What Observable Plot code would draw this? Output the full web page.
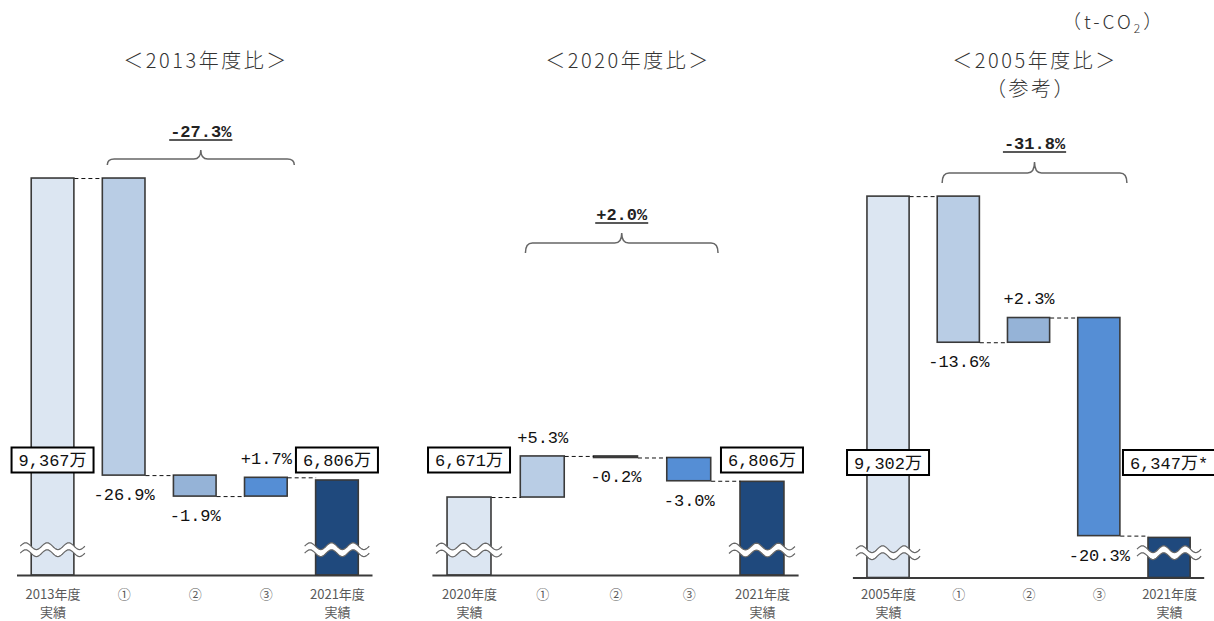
<!DOCTYPE html>
<html><head><meta charset="utf-8">
<script src="https://cdn.jsdelivr.net/npm/d3@7"></script>
<script src="https://cdn.jsdelivr.net/npm/@observablehq/plot@0.6"></script>
<style>
body{margin:0;background:#fff;}
#wrap{position:relative;width:1214px;height:621px;overflow:hidden;font-family:"Noto Sans CJK JP",sans-serif;}
#wrap svg{position:absolute;top:0;}
.title{position:absolute;font-size:20px;letter-spacing:2.5px;color:#333;transform:translateX(-50%);white-space:nowrap;line-height:20px;font-weight:300;}
.unit{position:absolute;font-size:19px;color:#333;white-space:nowrap;line-height:20px;letter-spacing:3px;font-weight:300;}
.unit sub{font-size:12px;vertical-align:-4px;}
</style></head><body><div id="wrap"></div>
<script>
// ---------- data ----------
const titles = ["＜2013年度比＞", "＜2020年度比＞", "＜2005年度比＞"];
const subtitles = ["", "", "（参考）"];
const unitLabel = ["（t-CO", "2", "）"];
const axisLabels = [
  ["2013年度\n実績", "①", "②", "③", "2021年度\n実績"],
  ["2020年度\n実績", "①", "②", "③", "2021年度\n実績"],
  ["2005年度\n実績", "①", "②", "③", "2021年度\n実績"]
];
const baseValues = [9367, 6671, 9302];     // 万 t-CO2
const finalValues = [6806, 6806, 6347];
const baseLabels = ["9,367万", "6,671万", "9,302万"];
const finalLabels = ["6,806万", "6,806万", "6,347万*"];
const changePct = [[-26.9, -1.9, 1.7], [5.3, -0.2, -3.0], [-13.6, 2.3, -20.3]];
const totalLabels = ["-27.3%", "+2.0%", "-31.8%"];
const axisBreakBase = 6000;   // value at the (broken) baseline
const axisTop = 10000;
const breakValue = 6215;      // where the wavy break is drawn

// ---------- style / layout ----------
const barColors = ["#dce6f2", "#b9cde5", "#95b3d7", "#558ed5", "#1f497d"];
const MONO = "'Liberation Mono','Noto Sans CJK JP',monospace";
const BAR_W = 0.6;
const layout = [
  {left: 0,   width: 400, ml: 17,   mr: 27.5, mt: 103.4, mb: 46,   titleX: 206,  bracketAt: 9477, hEnd: 6,  hPeak: 9,  pad: 11},
  {left: 410, width: 410, ml: 22.4, mr: 21.4, mt: 110.2, mb: 46,   titleX: 628,  bracketAt: 8771, hEnd: 10, hPeak: 10, pad: 11},
  {left: 830, width: 384, ml: 22.9, mr: 9.8,  mt: 115.5, mb: 43.5, titleX: 1035, bracketAt: 9416, hEnd: 10, hPeak: 11, pad: 8.5}
];

function textWidth(s, size) {
  let w = 0;
  for (const ch of s) w += ch.charCodeAt(0) > 0x2000 ? size : 0.6 * size;
  return w;
}

function waterfall(p) {
  const base = baseValues[p], fin = finalValues[p], pcts = changePct[p];
  const bars = [{i: 0, y1: axisBreakBase, y2: base, fill: barColors[0]}];
  const links = [], changes = [];
  let level = base;
  pcts.forEach((pc, k) => {
    const d = base * pc / 100;
    links.push({i: k, y: level});
    bars.push({i: k + 1, y1: level, y2: level + d, fill: barColors[k + 1]});
    changes.push({i: k + 1, y: level + d, pc, text: (pc > 0 ? "+" : "") + pc.toFixed(1) + "%"});
    level += d;
  });
  links.push({i: 3, y: level});
  bars.push({i: 4, y1: axisBreakBase, y2: fin, fill: barColors[4]});
  return {bars, links, changes};
}

function breakMark(indices, at) {
  return (index, scales) => {
    const g = d3.create("svg:g");
    for (const i of indices) {
      const cx = scales.x(i), cy = scales.y(at);
      const half = Math.abs(scales.x(i + BAR_W / 2) - scales.x(i - BAR_W / 2)) / 2 + 11;
      const x0 = cx - half, x1 = cx + half, P = (x1 - x0) / 3, A = 3.4, gap = 7;
      const top = d3.range(0, 61).map(k => {
        const x = x0 + (x1 - x0) * k / 60;
        return [x, cy - gap / 2 - A * Math.sin(2 * Math.PI * (x - x0) / P)];
      });
      const bot = top.map(([x, y]) => [x, y + gap]);
      const line = d3.line();
      g.append("path").attr("d", line(top.concat(bot.slice().reverse())) + "Z")
        .attr("fill", "#fff").attr("stroke", "none");
      g.append("path").attr("d", line(top)).attr("fill", "none").attr("stroke", "#666").attr("stroke-width", 1.2);
      g.append("path").attr("d", line(bot)).attr("fill", "none").attr("stroke", "#666").attr("stroke-width", 1.2);
    }
    return g.node();
  };
}

function boxMark(items) {
  return (index, scales, values, dims) => {
    const g = d3.create("svg:g");
    const yc = dims.height - dims.marginBottom - 115;
    for (const it of items) {
      const w = textWidth(it.text, 17) + 14;
      const cx = scales.x(it.i);
      g.append("rect").attr("x", cx - w / 2).attr("y", yc - 12.5).attr("width", w).attr("height", 25)
        .attr("fill", "#fff").attr("stroke", "#000").attr("stroke-width", 2);
      g.append("text").attr("x", cx).attr("y", yc + 6).attr("text-anchor", "middle")
        .attr("font-family", MONO).attr("font-size", 17).attr("fill", "#111").text(it.text);
    }
    return g.node();
  };
}

function bracketMark(L, label) {
  return (index, scales) => {
    const g = d3.create("svg:g");
    const x0 = scales.x(0.77), x1 = scales.x(3.4), yb = scales.y(L.bracketAt);
    const yl = yb - L.hEnd, yp = yl - L.hPeak, xm = (x0 + x1) / 2, r = 7;
    g.append("path")
      .attr("d", `M${x0},${yb} Q${x0},${yl} ${x0 + r},${yl} L${xm - r},${yl} Q${xm},${yl} ${xm},${yp} Q${xm},${yl} ${xm + r},${yl} L${x1 - r},${yl} Q${x1},${yl} ${x1},${yb}`)
      .attr("fill", "none").attr("stroke", "#666").attr("stroke-width", 1.5);
    const ul = yp - 10, w = textWidth(label, 17) + 2;
    g.append("text").attr("x", xm).attr("y", ul - 3).attr("text-anchor", "middle")
      .attr("font-family", MONO).attr("font-size", 17).attr("font-weight", "bold").attr("fill", "#222").text(label);
    g.append("line").attr("x1", xm - w / 2).attr("x2", xm + w / 2).attr("y1", ul).attr("y2", ul)
      .attr("stroke", "#222").attr("stroke-width", 1.5);
    return g.node();
  };
}

const wrap = document.getElementById("wrap");
layout.forEach((L, p) => {
  const {bars, links, changes} = waterfall(p);
  const textOpts = {x: "i", y: "y", text: "text", fontFamily: MONO, fontSize: 17, fill: "#111"};
  const chart = Plot.plot({
    width: L.width, height: 621,
    marginLeft: L.ml, marginRight: L.mr, marginTop: L.mt, marginBottom: L.mb,
    x: {domain: [-0.5, 4.5], axis: null},
    y: {domain: [axisBreakBase, axisTop], axis: null},
    color: {type: "identity"},
    style: {color: "#595959", background: "transparent", overflow: "visible", fontFamily: "'Noto Sans CJK JP',sans-serif"},
    marks: [
      Plot.rect(bars, {x1: d => d.i - BAR_W / 2, x2: d => d.i + BAR_W / 2, y1: "y1", y2: "y2",
        fill: "fill", stroke: "#3a3a3a", strokeWidth: 1.6}),
      Plot.link(links, {x1: d => d.i + BAR_W / 2, x2: d => d.i + 1 - BAR_W / 2, y1: "y", y2: "y",
        stroke: "#111", strokeDasharray: "4,3", strokeWidth: 1}),
      breakMark([0, 4], breakValue),
      Plot.ruleY([axisBreakBase], {stroke: "#3a3a3a", strokeWidth: 2}),
      Plot.text(changes.filter(d => d.pc < 0), {...textOpts, dy: 19}),
      Plot.text(changes.filter(d => d.pc > 0), {...textOpts, dy: -19}),
      boxMark([{i: 0, text: baseLabels[p]}, {i: 4, text: finalLabels[p]}]),
      bracketMark(L, totalLabels[p]),
      Plot.axisX({ticks: [0, 1, 2, 3, 4], tickFormat: i => axisLabels[p][i], tickSize: 0, tickPadding: L.pad,
        fontSize: 13, lineHeight: 1.36, fill: "#595959", label: null})
    ]
  });
  chart.style.left = L.left + "px";
  wrap.append(chart);

  const t = document.createElement("div");
  t.className = "title"; t.textContent = titles[p];
  t.style.left = L.titleX + "px"; t.style.top = "50px";
  wrap.append(t);
  if (subtitles[p]) {
    const s = document.createElement("div");
    s.className = "title"; s.textContent = subtitles[p];
    s.style.left = (L.titleX - 4) + "px"; s.style.top = "78px";
    wrap.append(s);
  }
});
const u = document.createElement("div");
u.className = "unit";
u.innerHTML = `${unitLabel[0]}<sub>${unitLabel[1]}</sub>${unitLabel[2]}`;
u.style.left = "1062px"; u.style.top = "11px";
wrap.append(u);
</script>
</body></html>
